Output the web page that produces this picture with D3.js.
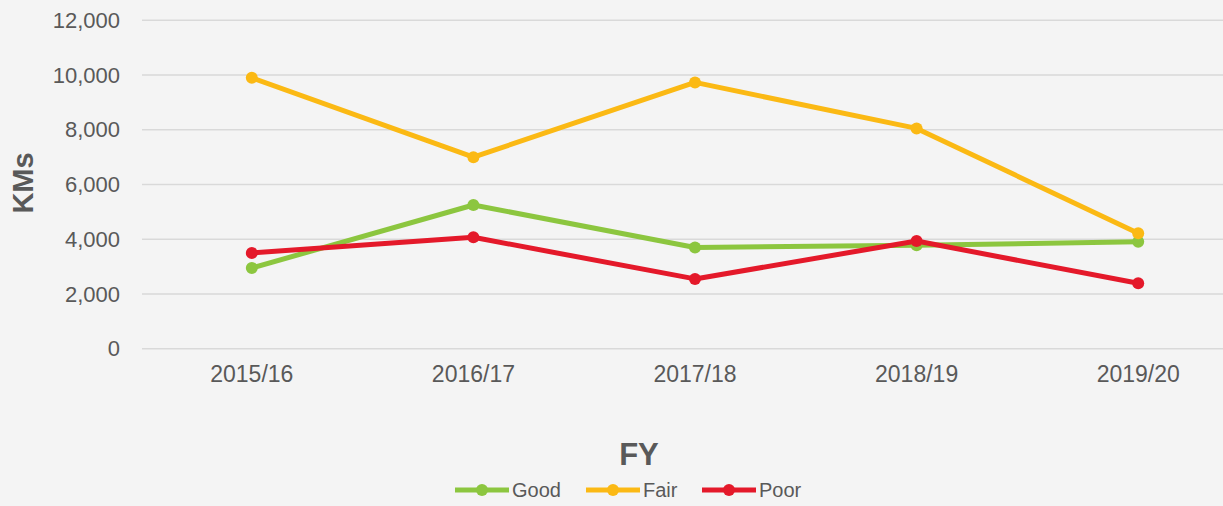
<!DOCTYPE html>
<html>
<head>
<meta charset="utf-8">
<script src="https://cdn.jsdelivr.net/npm/d3@7"></script>
<style>
    html, body { margin: 0; padding: 0; background: #f4f4f4; }
    svg { display: block; font-family: Arial, "Liberation Sans", sans-serif; }
</style>
</head>
<body>
<div id="chart"></div>
<script>
// Data
const years = ["2015/16", "2016/17", "2017/18", "2018/19", "2019/20"];
const good = [2950, 5250, 3700, 3780, 3910];
const fair = [9900, 7000, 9730, 8050, 4220];
const poor = [3500, 4070, 2550, 3935, 2390];
const seriesNames = ["Good", "Fair", "Poor"];
const yTicks = [0, 2000, 4000, 6000, 8000, 10000, 12000];

const width = 1223;
const height = 506;
const colors = { Good: "#8cc63f", Fair: "#fbb914", Poor: "#e4192a" };
const textColor = "#595959";

const series = [
    { name: "Good", values: good },
    { name: "Fair", values: fair },
    { name: "Poor", values: poor }
];

const svg = d3.select("#chart")
    .append("svg")
        .attr("width", width)
        .attr("height", height);

svg.append("rect")
    .attr("width", width)
    .attr("height", height)
    .attr("fill", "#f4f4f4");

// Scales
const x = d3.scaleBand()
    .domain(years)
    .range([141, 1249]);

const y = d3.scaleLinear()
    .domain([0, 12000])
    .range([348.7, 20.3]);

// Gridlines + y labels
const yAxis = svg.append("g")
    .attr("transform", "translate(120,0)")
    .call(d3.axisLeft(y).tickValues(yTicks).tickSize(0).tickPadding(0).tickFormat(d3.format(",")));
yAxis.select(".domain").remove();
yAxis.selectAll("text")
    .attr("fill", textColor)
    .attr("font-size", 22)
    .attr("font-family", "Arial, 'Liberation Sans', sans-serif");

svg.append("g")
    .selectAll("line")
    .data(yTicks)
    .enter()
    .append("line")
        .attr("x1", 142)
        .attr("x2", width)
        .attr("y1", d => y(d))
        .attr("y2", d => y(d))
        .attr("stroke", "#d9d9d9")
        .attr("stroke-width", 1.5);

// x labels
const xAxis = svg.append("g")
    .attr("transform", "translate(0,364)")
    .call(d3.axisBottom(x).tickSize(0).tickPadding(0));
xAxis.select(".domain").remove();
xAxis.selectAll("text")
    .attr("fill", textColor)
    .attr("font-size", 23)
    .attr("dy", "0.8em")
    .attr("font-family", "Arial, 'Liberation Sans', sans-serif");

// Lines
const line = d3.line()
    .x((d, i) => x(years[i]) + x.bandwidth() / 2)
    .y(d => y(d));

const plot = svg.append("g");
series.forEach(s => {
    plot.append("path")
        .datum(s.values)
        .attr("d", line)
        .attr("fill", "none")
        .attr("stroke", colors[s.name])
        .attr("stroke-width", 5)
        .attr("stroke-linejoin", "round");
    plot.append("g")
        .selectAll("circle")
        .data(s.values)
        .enter()
        .append("circle")
            .attr("cx", (d, i) => x(years[i]) + x.bandwidth() / 2)
            .attr("cy", d => y(d))
            .attr("r", 6)
            .attr("fill", colors[s.name]);
});

// Axis titles
svg.append("text")
    .attr("transform", "translate(33,183) rotate(-90)")
    .attr("text-anchor", "middle")
    .attr("font-size", 29)
    .attr("font-weight", "bold")
    .attr("fill", textColor)
    .text("KMs");

svg.append("text")
    .attr("x", 639)
    .attr("y", 465)
    .attr("text-anchor", "middle")
    .attr("font-size", 31)
    .attr("font-weight", "bold")
    .attr("fill", textColor)
    .text("FY");

// Legend
const legendX = [455, 586, 702];
const legend = svg.append("g")
    .selectAll("g")
    .data(seriesNames)
    .enter()
    .append("g")
        .attr("transform", (d, i) => `translate(${legendX[i]},490)`);
legend.append("line")
    .attr("x1", 0)
    .attr("x2", 54)
    .attr("stroke", d => colors[d])
    .attr("stroke-width", 5);
legend.append("circle")
    .attr("cx", 27)
    .attr("r", 6)
    .attr("fill", d => colors[d]);
legend.append("text")
    .attr("x", 57)
    .attr("dy", "0.35em")
    .attr("font-size", 20)
    .attr("fill", textColor)
    .text(d => d);
</script>
</body>
</html>
